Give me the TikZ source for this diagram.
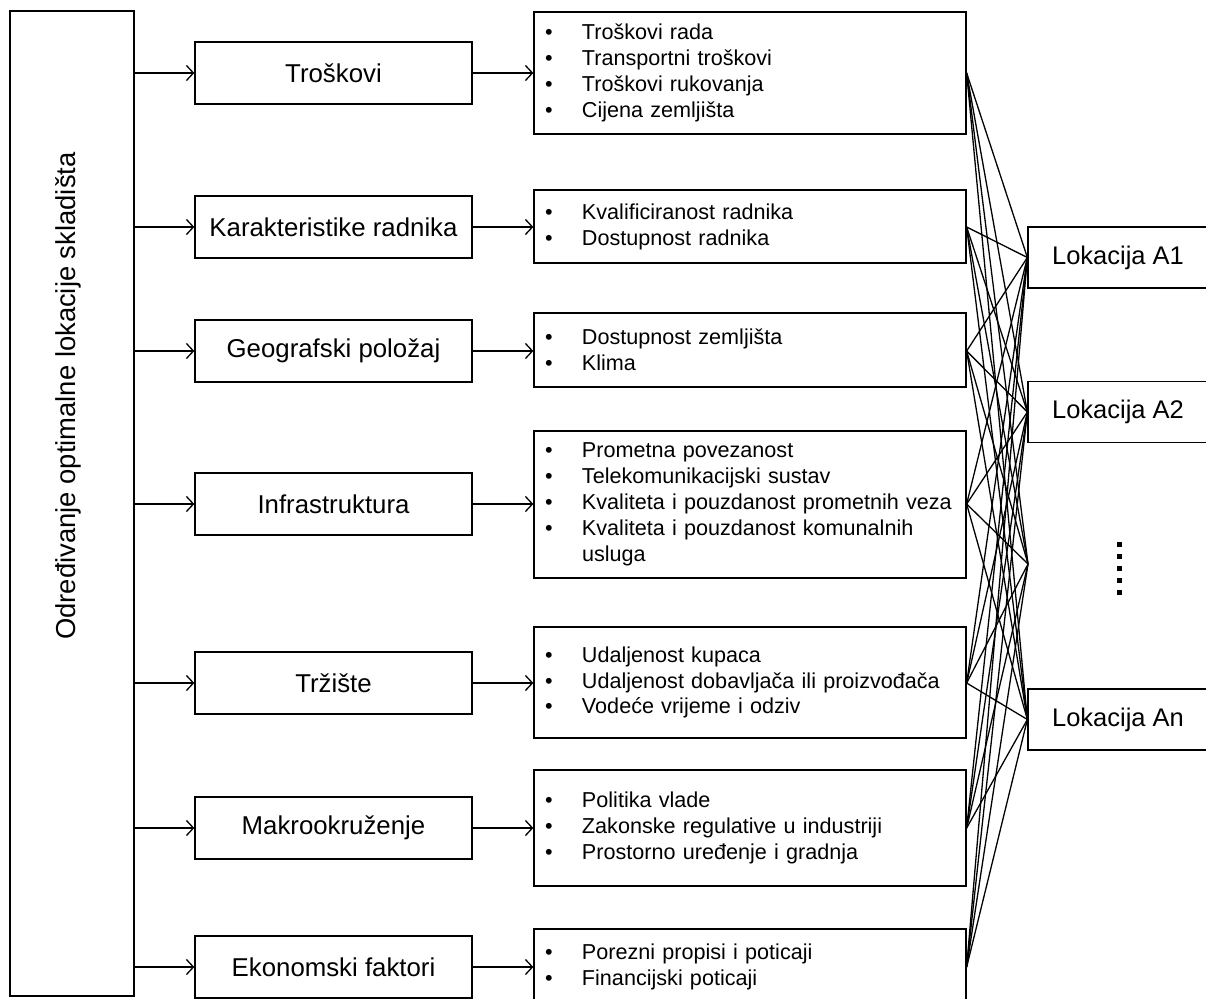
\documentclass[tikz,border=0pt]{standalone}
\usepackage{fontspec}
\setmainfont{Liberation Sans}
\usetikzlibrary{arrows.meta}
\newcommand{\bl}[1]{\makebox[36.8pt][l]{\textbullet}#1}
\begin{document}
\begin{tikzpicture}[x=1pt,y=-1pt,
  box/.style={draw, line width=1.3pt, inner sep=0pt},
  mbox/.style={box, minimum width=277pt, minimum height=62pt, font=\fontsize{25.8}{31}\selectfont},
  bbox/.style={box, text width=409.6pt, inner xsep=11.2pt, align=left, font=\fontsize{21.6}{25.9}\selectfont},
  lbox/.style={box, minimum width=180pt, minimum height=61pt, font=\fontsize{25.5}{31}\selectfont},
  arr/.style={line width=1.3pt, -{Straight Barb[length=7pt,width=15pt]}},
  link/.style={line width=1.3pt}]
\useasboundingbox (0,0) rectangle (1206,998);
\clip (0,0) rectangle (1206,998);

% goal box
\node[box, minimum width=124pt, minimum height=985pt] (goal) at (72,503.5) {};
\node[rotate=90, inner sep=0pt, font=\fontsize{27.4}{33}\selectfont] (goaltext) at (68,396) {Određivanje optimalne lokacije skladišta};

% middle boxes
\node[mbox] (m1) at (333.5,73) {Troškovi};
\node[mbox] (m2) at (333.5,227) {Karakteristike radnika};
\node[mbox] (m3) at (333.5,351) {Geografski položaj};
\node[mbox] (m4) at (333.5,504) {Infrastruktura};
\node[mbox] (m5) at (333.5,683) {Tržište};
\node[mbox] (m6) at (333.5,828) {Makrookruženje};
\node[mbox] (m7) at (333.5,967) {Ekonomski faktori};

% bullet boxes
\node[bbox, minimum height=122pt] (b1) at (750,73) {\bl{Troškovi rada}\\\bl{Transportni troškovi}\\\bl{Troškovi rukovanja}\\\bl{Cijena zemljišta}};
\node[bbox, minimum height=73pt] (b2) at (750,226.5) {\bl{Kvalificiranost radnika}\\\bl{Dostupnost radnika}};
\node[bbox, minimum height=74pt] (b3) at (750,350) {\bl{Dostupnost zemljišta}\\\bl{Klima}};
\node[bbox, minimum height=147pt] (b4) at (750,504.5) {\bl{Prometna povezanost}\\\bl{Telekomunikacijski sustav}\\\bl{Kvaliteta i pouzdanost prometnih veza}\\\bl{Kvaliteta i pouzdanost komunalnih}\\\hspace*{36.8pt}usluga};
\node[bbox, minimum height=111pt] (b5) at (750,682.5) {\bl{Udaljenost kupaca}\\\bl{Udaljenost dobavljača ili proizvođača}\\\bl{Vodeće vrijeme i odziv}};
\node[bbox, minimum height=116pt] (b6) at (750,828) {\bl{Politika vlade}\\\bl{Zakonske regulative u industriji}\\\bl{Prostorno uređenje i gradnja}};
\node[bbox, minimum height=76pt] (b7) at (750,967) {\bl{Porezni propisi i poticaji}\\\bl{Financijski poticaji}};

% location boxes
\node[lbox] (l1) at (1118,257.5) {Lokacija A1};
\node[lbox] (l2) at (1118,412) {Lokacija A2};
\node[lbox] (ln) at (1118,719.5) {Lokacija An};
\coordinate (ldots) at (1028,564);
\foreach \yy in {542,554,566,578,590}
  \fill (1116.5,\yy) rectangle (1121.5,{\yy+5});

% arrows
\foreach \i in {1,...,7} {
  \draw[arr] (goal.east |- m\i) -- (m\i.west);
  \draw[arr] (m\i.east) -- (m\i.east -| b\i.west);
}

% links
\foreach \i in {1,...,7}
  \foreach \t in {l1.west,l2.west,ldots,ln.west}
    \draw[link] (m\i -| b\i.east) -- (\t);
\end{tikzpicture}
\end{document}
